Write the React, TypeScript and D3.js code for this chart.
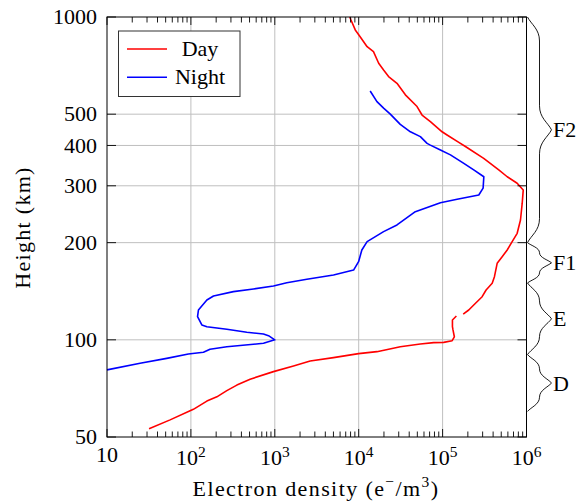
import React, { useEffect, useState } from 'react';
import * as d3 from 'd3';

// ---- data ----
const dayDensity: (number | null)[] = [
  31.7, 56.5, 97.8, 107, 155, 204, 268, 353, 508, 964, 1670, 2640, 5010, 9970, 16500, 31300, 54300, 78300,
  103000, 130000, 138000, 133000, 131000, 131000, 146000, null, 176000, 205000, 235000, 296000, 330000,
  390000, 415000, 447000, 513000, 589000, 675000, 774000, 848000, 889000, 914000, 774000, 589000, 467000,
  309000, 187000, 156000, 113000, 98600, 71500, 56900, 49600, 36000, 28600, 22700, 19800, 17300, 15000,
  12600, 10400, 9100, 8090, 7830,
];
const dayHeight: (number | null)[] = [
  53.0, 56.5, 60.3, 60.9, 64.6, 66.6, 69.6, 72.4, 75.5, 79.7, 83.0, 86.0, 88.1, 90.6, 91.9, 95.2, 97.1, 98.0,
  98.2, 99.4, 102.2, 107.3, 109.8, 115.2, 118.5, null, 120.2, 123.7, 128.2, 136.0, 142.7,
  149.7, 156.9, 172.6, 180.9, 189.8, 201.4, 213.8, 235, 265, 291, 305.5, 320, 336,
  365, 397, 409, 431, 441, 474, 497, 528, 574, 623, 654, 685, 719, 781,
  809, 869, 912, 979, 1000,
];
const nightDensity: number[] = [
  10, 24.8, 51.5, 93.3, 141, 169, 268, 557, 733, 1000, 841, 733, 464, 268, 155, 135, 120, 123, 155, 186,
  321, 557, 964, 1390, 2410, 5010, 8690, 9970, 10900, 12600, 19800, 28600, 47300, 94200, 149000, 270000,
  304000, 310000, 235000, 179000, 124000, 94200, 71500, 65300, 54300, 41300, 31300, 23800, 19800, 16500, 13700,
];
const nightHeight: number[] = [
  80.7, 84.6, 87.6, 90.4, 91.5, 93.5, 95.2, 96.9, 97.6, 100, 103.0, 104.2, 105.5, 107.8, 109.8, 111.2, 118, 123.7, 132.9, 136.7,
  141, 143.7, 146.8, 150.3, 154, 158.8, 164.5, 174.6, 189.8, 201.4, 216.3, 226.9, 249.5, 266, 272.5, 281,
  295, 320, 336, 352, 374, 387, 401, 406, 426, 441, 465, 500, 522, 547, 590,
];

const xTickExponents = [1, 2, 3, 4, 5, 6];
const minorMultipliers = [2, 3, 4, 5, 6, 7, 8, 9];
const yTickValues = [50, 100, 200, 300, 400, 500, 1000];
const yGridValues = [100, 200, 300, 400, 500];

const layerNames = ['F2', 'F1', 'E', 'D'];
const layerTops = [1000, 200, 150, 90];
const layerBottoms = [200, 150, 90, 60];

const seriesNames = ['Day', 'Night'];
const seriesColors = ['#ff0000', '#0000ff'];

const L = 107, R = 526.5, T = 17, B = 437;
const FF = 'Liberation Serif';

function bracePath(x0: number, y1: number, y2: number, a: number): string {
  const len = y2 - y1;
  const m = len / 2;
  const au = Math.min(a, len / 4);
  const P = (u: number, v: number) => `${x0 + v},${y1 + u}`;
  return [
    `M${P(0, 0)}`,
    `C${P(0.3 * au, 0.15 * a)} ${P(0.5 * au, 0.5 * a)} ${P(au, 0.5 * a)}`,
    `L${P(m - au, 0.5 * a)}`,
    `C${P(m - 0.5 * au, 0.5 * a)} ${P(m - 0.3 * au, 0.85 * a)} ${P(m, a)}`,
    `C${P(m + 0.3 * au, 0.85 * a)} ${P(m + 0.5 * au, 0.5 * a)} ${P(m + au, 0.5 * a)}`,
    `L${P(len - au, 0.5 * a)}`,
    `C${P(len - 0.5 * au, 0.5 * a)} ${P(len - 0.3 * au, 0.15 * a)} ${P(len, 0)}`,
  ].join(' ');
}

function T_(props: any) {
  const { children, ...rest } = props;
  return (
    <text fontFamily={FF} style={{ fontFamily: `'${FF}', monospace` }} fontSize={22} fill="#000" {...rest}>
      {children}
    </text>
  );
}

export default function App() {
  const [tick, setTick] = useState(0);
  useEffect(() => {
    const f: any = (document as any).fonts;
    if (f && f.ready) f.ready.then(() => setTick((t) => t + 1));
  }, []);

  const x = d3.scaleLog().domain([10, 1e6]).range([L, R]);
  const y = d3.scaleLog().domain([50, 1000]).range([B, T]);

  const dayPts = dayDensity.map((d, i) => [d, dayHeight[i]] as [number | null, number | null]);
  const nightPts = nightDensity.map((d, i) => [d, nightHeight[i]] as [number | null, number | null]);

  const line = d3
    .line<[number | null, number | null]>()
    .defined((p) => p[0] !== null && p[1] !== null)
    .x((p) => x(p[0] as number))
    .y((p) => y(p[1] as number));

  const minorTicks: number[] = [];
  xTickExponents.slice(0, -1).forEach((e) => minorMultipliers.forEach((m) => minorTicks.push(m * Math.pow(10, e))));

  const majorLen = 8, minorLen = 5.5, yTickLen = 9;

  return (
    <svg
      key={tick}
      width={579}
      height={504}
      fontFamily={FF}
      style={{ position: 'absolute', left: 0, top: 0, background: '#fff', fontFamily: `'${FF}', monospace` }}
    >
      <rect x={0} y={0} width={579} height={504} fill="#fff" />

      {/* grid */}
      {xTickExponents.slice(1, -1).map((e) => (
        <line key={'gx' + e} x1={x(Math.pow(10, e))} x2={x(Math.pow(10, e))} y1={T} y2={B} stroke="#bfbfbf" strokeWidth={1} />
      ))}
      {yGridValues.map((v) => (
        <line key={'gy' + v} x1={L} x2={R} y1={y(v)} y2={y(v)} stroke="#bfbfbf" strokeWidth={1} />
      ))}

      {/* curves (all points lie inside the plot box) */}
      <g fill="none" strokeWidth={1.6} strokeLinejoin="round">
        <path d={line(dayPts) || ''} stroke={seriesColors[0]} />
        <path d={line(nightPts) || ''} stroke={seriesColors[1]} />
      </g>

      {/* ticks */}
      <g stroke="#000" strokeWidth={0.9}>
        {xTickExponents.map((e) => {
          const px = x(Math.pow(10, e));
          return (
            <g key={'mx' + e}>
              <line x1={px} x2={px} y1={B} y2={B - majorLen} />
              <line x1={px} x2={px} y1={T} y2={T + majorLen} />
            </g>
          );
        })}
        {minorTicks.map((v) => {
          const px = x(v);
          return (
            <g key={'nx' + v}>
              <line x1={px} x2={px} y1={B} y2={B - minorLen} />
              <line x1={px} x2={px} y1={T} y2={T + minorLen} />
            </g>
          );
        })}
        {yTickValues.map((v) => (
          <g key={'ty' + v}>
            <line x1={L} x2={L + yTickLen} y1={y(v)} y2={y(v)} />
            <line x1={R} x2={R - yTickLen} y1={y(v)} y2={y(v)} />
          </g>
        ))}
      </g>

      {/* frame */}
      <rect x={L} y={T} width={R - L} height={B - T} fill="none" stroke="#000" strokeWidth={1} />

      {/* x tick labels */}
      {xTickExponents.map((e) => (
        <T_ key={'lx' + e} x={x(Math.pow(10, e))} y={e === 1 ? 461.5 : 465} textAnchor="middle">
          10
          {e !== 1 && (
            <tspan fontSize={15.5} dy={-8.5}>
              {e}
            </tspan>
          )}
        </T_>
      ))}

      {/* y tick labels */}
      {yTickValues.map((v) => (
        <T_ key={'ly' + v} x={97} y={y(v) + 7.3} textAnchor="end">
          {v}
        </T_>
      ))}

      {/* axis labels */}
      <T_ x={316} y={496} textAnchor="middle" letterSpacing={1.4}>
        Electron density (e
        <tspan fontSize={15.5} dy={-9}>{'\u2212'}</tspan>
        <tspan dy={9}>/m</tspan>
        <tspan fontSize={15.5} dy={-9}>3</tspan>
        <tspan dy={9}>)</tspan>
      </T_>
      <T_ x={30} y={227.5} textAnchor="middle" letterSpacing={1.3} transform="rotate(-90 30 227.5)">
        Height (km)
      </T_>

      {/* legend */}
      <g>
        <rect x={118.5} y={31} width={121.5} height={65.5} fill="#fff" stroke="#333" strokeWidth={1} />
        {seriesNames.map((n, i) => (
          <g key={n}>
            <line x1={127} x2={167} y1={49 + i * 28.3} y2={49 + i * 28.3} stroke={seriesColors[i]} strokeWidth={1.6} />
            <T_ x={200} y={56.3 + i * 28} textAnchor="middle">
              {n}
            </T_>
          </g>
        ))}
      </g>

      {/* braces */}
      {layerNames.map((n, i) => {
        const y1 = y(layerTops[i]);
        const y2 = y(layerBottoms[i]);
        return (
          <g key={n}>
            <path d={bracePath(R + 1, y1, y2, 24)} fill="none" stroke="#000" strokeWidth={0.9} />
            <T_ x={553} y={(y1 + y2) / 2 + 7.5}>
              {n}
            </T_>
          </g>
        );
      })}
    </svg>
  );
}
